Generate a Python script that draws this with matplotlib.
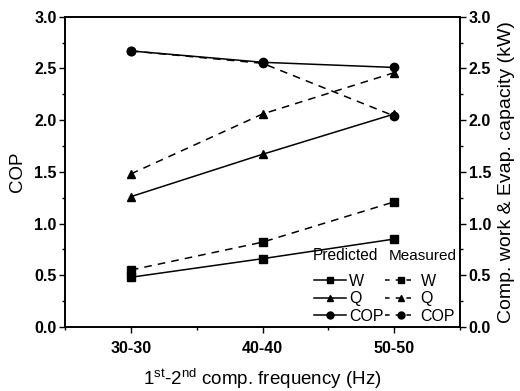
import matplotlib
matplotlib.use("Agg")
import matplotlib.pyplot as plt
from matplotlib.lines import Line2D
from matplotlib.ticker import MultipleLocator

plt.rcParams['font.family'] = ['Liberation Sans', 'DejaVu Sans']
plt.rcParams['mathtext.fontset'] = 'custom'
plt.rcParams['mathtext.rm'] = 'Liberation Sans'
plt.rcParams['mathtext.it'] = 'Liberation Sans'

categories = ["30-30", "40-40", "50-50"]
pred_W = [0.48, 0.66, 0.85]
meas_W = [0.55, 0.82, 1.21]
pred_Q = [1.26, 1.67, 2.06]
meas_Q = [1.48, 2.06, 2.46]
pred_COP = [2.67, 2.56, 2.51]
meas_COP = [2.67, 2.55, 2.04]

fig = plt.figure(figsize=(5.2, 3.91), dpi=100)
ax = fig.add_axes([0.125, 0.164, 0.76, 0.793])
ax2 = ax.twinx()

x = list(range(len(categories)))
lw = 1.1
ms = 6
ax.plot(x, pred_COP, '-', color='k', lw=lw, marker='o', ms=ms)
ax.plot(x, meas_COP, '--', color='k', lw=lw, marker='o', ms=ms, dashes=(5, 4))
ax2.plot(x, pred_W, '-', color='k', lw=lw, marker='s', ms=ms)
ax2.plot(x, meas_W, '--', color='k', lw=lw, marker='s', ms=ms, dashes=(5, 4))
ax2.plot(x, pred_Q, '-', color='k', lw=lw, marker='^', ms=ms)
ax2.plot(x, meas_Q, '--', color='k', lw=lw, marker='^', ms=ms, dashes=(5, 4))

for a in (ax, ax2):
    a.set_ylim(0, 3.0)
    a.yaxis.set_major_locator(MultipleLocator(0.5))
    a.yaxis.set_minor_locator(MultipleLocator(0.25))
    a.tick_params(which='both', direction='out', labelsize=11.5, width=1, pad=2)
    a.tick_params(which='major', length=4)
    a.tick_params(which='minor', length=2.5)
    for s in a.spines.values():
        s.set_linewidth(1.2)

ax.set_xlim(-0.5, 2.5)
ax.set_xticks(x)
ax.set_xticklabels(categories)
ax.xaxis.set_minor_locator(MultipleLocator(0.5))
ax.tick_params(axis='x', pad=6)
ax.set_yticklabels([f"{v:.1f}" for v in ax.get_yticks()], fontweight='bold')
ax2.set_yticklabels([f"{v:.1f}" for v in ax2.get_yticks()], fontweight='bold')
for t in ax.get_xticklabels():
    t.set_fontweight('bold')

ax.set_ylabel("COP", fontsize=13.5, labelpad=6)
ax2.set_ylabel("Comp. work & Evap. capacity (kW)", fontsize=14, labelpad=5)
ax.set_xlabel(r"1$^{\rm st}$-2$^{\rm nd}$ comp. frequency (Hz)", fontsize=13.5, labelpad=8)

handles = [
    Line2D([], [], color='k', lw=lw, ls='-', marker='s', ms=5),
    Line2D([], [], color='k', lw=lw, ls='-', marker='^', ms=5),
    Line2D([], [], color='k', lw=lw, ls='-', marker='o', ms=5),
    Line2D([], [], color='k', lw=lw, ls='--', marker='s', ms=5, dashes=(3, 4)),
    Line2D([], [], color='k', lw=lw, ls='--', marker='^', ms=5, dashes=(3, 4)),
    Line2D([], [], color='k', lw=lw, ls='--', marker='o', ms=5, dashes=(3, 4)),
]
labels = ["W", "Q", "COP", "W", "Q", "COP"]
leg = ax.legend(handles, labels, ncol=2, loc='lower right', bbox_to_anchor=(0.995, 0.0),
                frameon=False, fontsize=11.5, handlelength=2.0, handletextpad=0.2,
                columnspacing=0.1, labelspacing=0.15, borderaxespad=0.0, borderpad=0.2)
ax.text(0.628, 0.215, "Predicted", transform=ax.transAxes, fontsize=11.2)
ax.text(0.818, 0.215, "Measured", transform=ax.transAxes, fontsize=11)

fig.savefig("out.png", dpi=100)
